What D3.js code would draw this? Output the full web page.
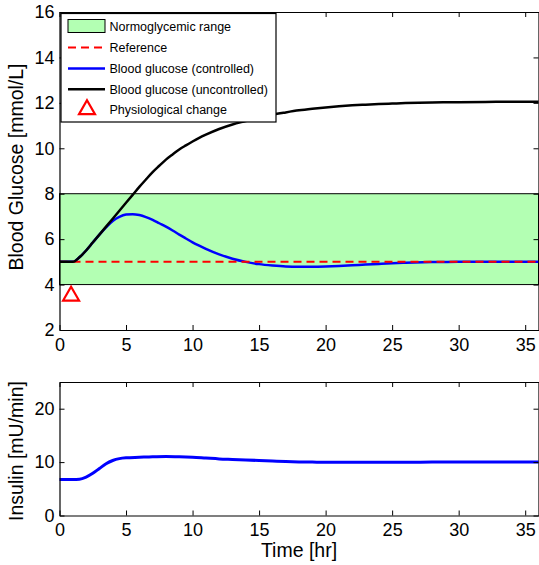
<!DOCTYPE html>
<html><head><meta charset="utf-8">
<script src="https://cdn.jsdelivr.net/npm/d3@7"></script>
<style>
body{margin:0;background:#fff;}
svg{display:block;font-family:"Liberation Sans",Arial,Helvetica,sans-serif;}
</style></head>
<body><svg id="c" width="539" height="565"></svg>
<script>
// ---- data ----
const glucoseTime   = [0,0.5,1,1.5,2,2.5,3,3.5,4,4.5,5,5.5,6,6.5,7,7.5,8,8.5,9,9.5,10,10.5,11,12,13,14,15,16,17,18,19,20,21,22,23,24,25,26,28,30,32,34,36];
const glucoseCtrl   = [5,5,5,5.2,5.5,5.85,6.2,6.52,6.8,6.98,7.08,7.1,7.06,6.97,6.85,6.7,6.55,6.38,6.2,6.03,5.86,5.71,5.57,5.33,5.14,5.0,4.9,4.84,4.8,4.79,4.79,4.8,4.82,4.85,4.88,4.91,4.94,4.96,4.99,5.0,5.0,5.0,5.0];
const glucoseUnctrl = [5,5,5,5.2,5.5,5.85,6.2,6.55,6.9,7.25,7.6,7.95,8.3,8.63,8.95,9.23,9.5,9.73,9.95,10.13,10.3,10.46,10.6,10.85,11.05,11.2,11.35,11.48,11.58,11.67,11.74,11.8,11.85,11.89,11.92,11.95,11.97,11.99,12.02,12.03,12.04,12.05,12.05];
const insulinTime   = [0,1,1.5,2,2.5,3,3.5,4,4.5,5,6,7,8,9,10,11,12,13,14,15,16,17,18,19,20,22,24,26,28,30,32,34,36];
const insulinCtrl   = [6.75,6.75,6.8,7.2,7.9,8.8,9.7,10.3,10.65,10.8,10.9,11.0,11.05,11.0,10.9,10.75,10.6,10.5,10.4,10.3,10.2,10.1,10.03,10.0,9.97,9.95,9.96,9.98,10.0,10.0,10.0,10.0,10.0];
const normoRange    = [4, 8];
const referenceLevel = 5;
const eventPoint    = [0.87, 3.5];
const xTicks        = [0,5,10,15,20,25,30,35];
const glucoseTicks  = [2,4,6,8,10,12,14,16];
const insulinTicks  = [0,10,20];
const legendLabels  = ["Normoglycemic range","Reference","Blood glucose (controlled)","Blood glucose (uncontrolled)","Physiological change"];

// ---- layout ----
const svg = d3.select("#c");
const L = 59.5, R = 538.5;
const up = {top: 12, bottom: 330};
const lo = {top: 382, bottom: 515.5};
const tickFont = 18, labelFont = 19.5;

const x = d3.scaleLinear().domain([0,36]).range([L,R]);
const yG = d3.scaleLinear().domain([2,16]).range([up.bottom, up.top]);
const yI = d3.scaleLinear().domain([0,25]).range([lo.bottom, lo.top]);

function frame(y, yt, panel){
  const g = svg.append("g");
  // bottom
  g.append("g").attr("transform",`translate(0,${panel.bottom})`)
    .call(d3.axisBottom(x).tickValues(xTicks).tickSize(-5).tickSizeOuter(0).tickPadding(8));
  g.append("g").attr("transform",`translate(0,${panel.top})`)
    .call(d3.axisTop(x).tickValues(xTicks).tickSize(-5).tickSizeOuter(0).tickFormat(""));
  g.append("g").attr("transform",`translate(${L},0)`)
    .call(d3.axisLeft(y).tickValues(yt).tickSize(-5).tickSizeOuter(0).tickPadding(5));
  g.append("g").attr("transform",`translate(${R},0)`)
    .call(d3.axisRight(y).tickValues(yt).tickSize(-5).tickSizeOuter(0).tickFormat(""));
  g.selectAll("text").attr("font-size",tickFont).attr("font-family","Liberation Sans, Arial, sans-serif").attr("fill","#000");
  g.selectAll("path.domain").attr("stroke","#000").attr("stroke-width",1.2);
  g.selectAll(".tick line").attr("stroke","#000").attr("stroke-width",1);
  return g;
}

// ---- upper panel ----
const gU = svg.append("g");
gU.append("rect")
  .attr("x",x(0)).attr("width",x(36)-x(0))
  .attr("y",yG(normoRange[1])).attr("height",yG(normoRange[0])-yG(normoRange[1]))
  .attr("fill","#b3ffb3").attr("stroke","#000").attr("stroke-width",1);

const lineG = d3.line().x((d,i)=>x(glucoseTime[i])).y(d=>yG(d)).curve(d3.curveMonotoneX);
gU.append("path").datum(glucoseCtrl).attr("d",lineG)
  .attr("fill","none").attr("stroke","#0000ff").attr("stroke-width",2.5);
gU.append("line")
  .attr("x1",x(0)).attr("x2",x(36)).attr("y1",yG(referenceLevel)).attr("y2",yG(referenceLevel))
  .attr("stroke","#ff0000").attr("stroke-width",2).attr("stroke-dasharray","8,5");
gU.append("path").datum(glucoseUnctrl).attr("d",lineG)
  .attr("fill","none").attr("stroke","#000").attr("stroke-width",2.5);
gU.append("path")
  .attr("d",d3.symbol().type(d3.symbolTriangle).size(110)())
  .attr("transform",`translate(${x(eventPoint[0])},${yG(eventPoint[1])})`)
  .attr("fill","none").attr("stroke","#ff0000").attr("stroke-width",2.2);

frame(yG, glucoseTicks, up);

// legend
const lg = svg.append("g");
lg.append("rect").attr("x",61).attr("y",13.5).attr("width",215).attr("height",108.5)
  .attr("fill","#fff").attr("stroke","#000").attr("stroke-width",1.2);
const rowY = [26,47.5,68.5,89.2,109.5];
lg.append("rect").attr("x",68).attr("y",rowY[0]-6.5).attr("width",37).attr("height",13)
  .attr("fill","#b3ffb3").attr("stroke","#000").attr("stroke-width",1);
lg.append("line").attr("x1",68).attr("x2",105).attr("y1",rowY[1]).attr("y2",rowY[1])
  .attr("stroke","#ff0000").attr("stroke-width",2).attr("stroke-dasharray","8,5");
lg.append("line").attr("x1",68).attr("x2",105).attr("y1",rowY[2]).attr("y2",rowY[2])
  .attr("stroke","#0000ff").attr("stroke-width",2.5);
lg.append("line").attr("x1",68).attr("x2",105).attr("y1",rowY[3]).attr("y2",rowY[3])
  .attr("stroke","#000").attr("stroke-width",2.5);
lg.append("path").attr("d",d3.symbol().type(d3.symbolTriangle).size(110)())
  .attr("transform",`translate(87,${rowY[4]})`)
  .attr("fill","none").attr("stroke","#ff0000").attr("stroke-width",2.2);
lg.selectAll("text.lab").data(legendLabels).join("text")
  .attr("x",109.5).attr("y",(d,i)=>rowY[i]+4.5)
  .attr("font-size",12.5).attr("fill","#000").text(d=>d);

// ---- lower panel ----
const lineI = d3.line().x((d,i)=>x(insulinTime[i])).y(d=>yI(d)).curve(d3.curveMonotoneX);
svg.append("path").datum(insulinCtrl).attr("d",lineI)
  .attr("fill","none").attr("stroke","#0000ff").attr("stroke-width",3);
frame(yI, insulinTicks, lo);

// ---- axis labels ----
svg.append("text").attr("transform",`translate(23,167) rotate(-90)`)
  .attr("text-anchor","middle").attr("font-size",labelFont).text("Blood Glucose [mmol/L]");
svg.append("text").attr("transform",`translate(23,451) rotate(-90)`)
  .attr("text-anchor","middle").attr("font-size",labelFont).text("Insulin [mU/min]");
svg.append("text").attr("x",299).attr("y",557)
  .attr("text-anchor","middle").attr("font-size",labelFont).text("Time [hr]");
</script></body></html>
